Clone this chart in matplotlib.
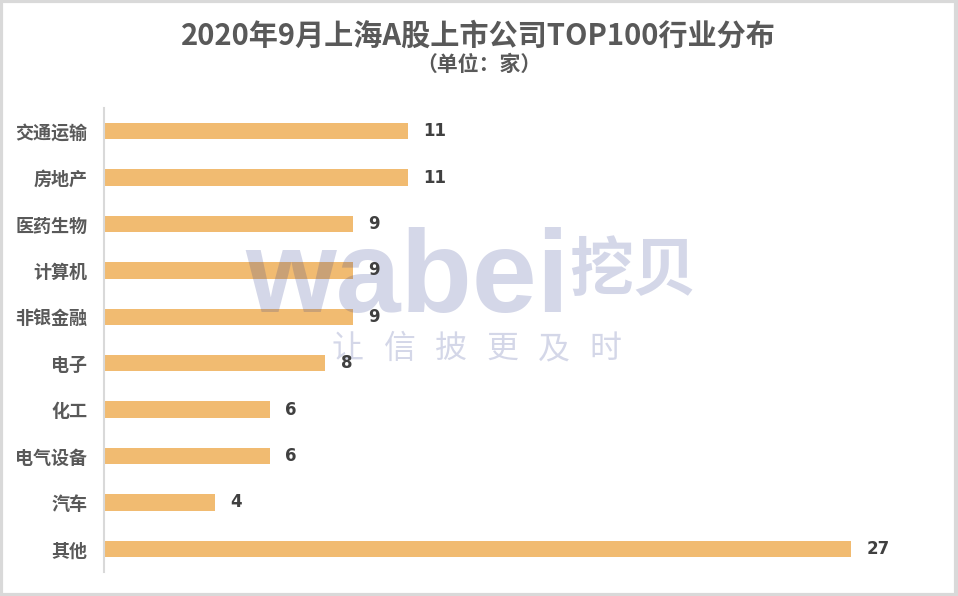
import matplotlib.pyplot as plt
from matplotlib.patches import Rectangle

plt.rcParams['font.family'] = ['Noto Sans CJK SC', 'DejaVu Sans']

# data (top to bottom)
industries = ['交通运输', '房地产', '医药生物', '计算机', '非银金融',
              '电子', '化工', '电气设备', '汽车', '其他']
counts = [11, 11, 9, 9, 9, 8, 6, 6, 4, 27]

title = '2020年9月上海A股上市公司TOP100行业分布'
subtitle = '（单位：家）'
slogan = '让信披更及时'

bar_color = '#F1BB71'
label_color = '#595959'
value_color = '#404040'
grid_gray = '#D9D9D9'

fig = plt.figure(figsize=(9.58, 5.96), dpi=100)
ax = fig.add_axes([0.1086, 0.0403, 0.8664, 0.7785])

ypos = list(range(len(industries)))
ax.barh(ypos, counts, height=0.35, color=bar_color, zorder=2)
ax.set_ylim(len(industries) - 0.5, -0.5)
ax.set_xlim(0, 30)

ax.set_yticks(ypos)
ax.set_yticklabels(industries, fontsize=13, fontweight='bold', color=label_color)
ax.tick_params(axis='y', length=0, pad=12)
ax.set_xticks([])

for side in ['top', 'right', 'bottom']:
    ax.spines[side].set_visible(False)
ax.spines['left'].set_color(grid_gray)
ax.spines['left'].set_linewidth(1.5)

for y, v in zip(ypos, counts):
    ax.annotate(str(v), (v, y), xytext=(11, 0), textcoords='offset points',
                ha='left', va='center', fontsize=12, fontweight='bold',
                color=value_color, family=['DejaVu Sans'], zorder=6)

# titles
fig.text(0.499, 0.9396, title, ha='center', va='center', fontsize=21,
         fontweight='bold', color=label_color)
fig.text(0.5, 0.892, subtitle, ha='center', va='center', fontsize=15,
         fontweight='bold', color=label_color)

# watermark: above the bars, below the value labels
wm = '#2B3A8F'
ax.text(0.2557, 0.4765, 'wabei', ha='left', va='baseline', fontsize=84,
        fontweight='bold', family=['Liberation Sans'], color=wm, alpha=0.2,
        transform=fig.transFigure, zorder=4, clip_on=False)
ax.text(0.594, 0.545, '挖贝', ha='left', va='center', fontsize=46,
        fontweight='bold', color=wm, alpha=0.2,
        transform=fig.transFigure, zorder=4, clip_on=False)
for i, ch in enumerate(slogan):
    ax.text((348 + i * 51.5) / 958, 1 - 349 / 596, ch, ha='center', va='center',
            fontsize=23, color=wm, alpha=0.2,
            transform=fig.transFigure, zorder=4, clip_on=False)

# light frame around the picture
fig.patches.append(Rectangle((0.001, 0.002), 0.997, 0.996, transform=fig.transFigure,
                             fill=False, edgecolor=grid_gray, linewidth=3))

fig.savefig('out.png', dpi=100)
